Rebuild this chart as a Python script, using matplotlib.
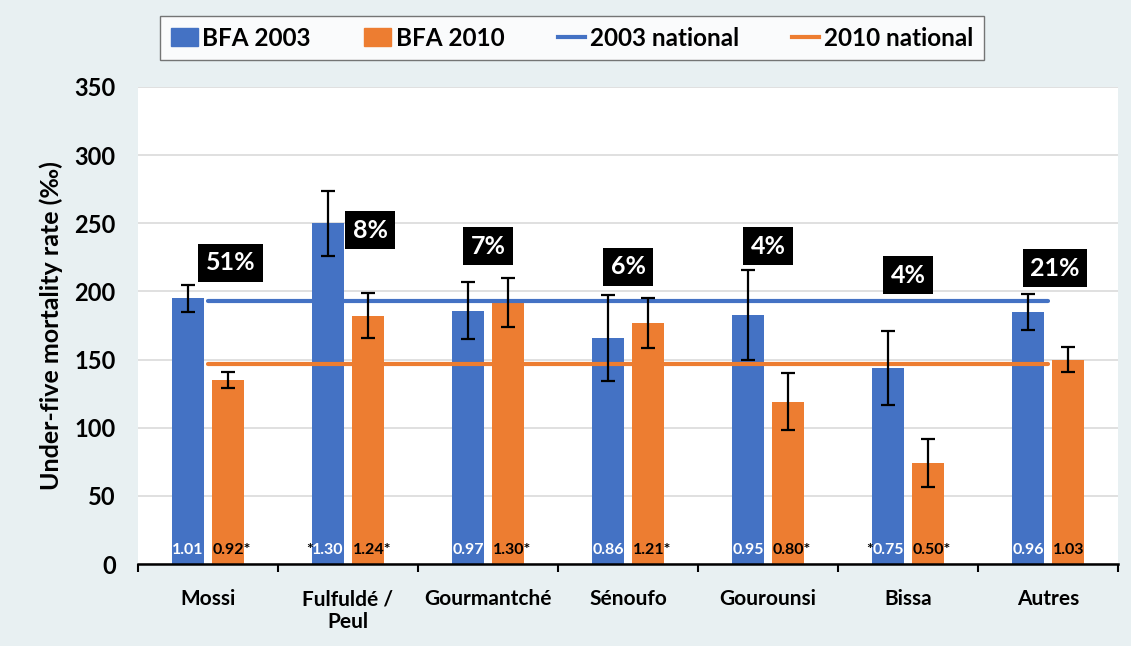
import matplotlib
matplotlib.use("Agg")
import matplotlib.pyplot as plt
import numpy as np
from matplotlib.patches import Patch
from matplotlib.lines import Line2D

plt.rcParams['font.family'] = ['Lato', 'DejaVu Sans']

categories = ["Mossi", "Fulfuldé /\nPeul", "Gourmantché", "Sénoufo", "Gourounsi", "Bissa", "Autres"]
bfa2003 = [195, 250, 186, 166, 183, 144, 185]
err2003 = [10, 24, 21, 31.5, 33, 27, 13]
bfa2010 = [135, 182, 192, 177, 119, 74, 150]
err2010 = [6, 16.5, 18, 18.5, 21, 17.5, 9]
national2003 = 193
national2010 = 147
shares = ["51%", "8%", "7%", "6%", "4%", "4%", "21%"]
share_y = [221, 245, 233, 218, 233, 212, 217]
share_x = [0.16, 1.16, 2.0, 3.0, 4.0, 5.0, 6.05]
ratio2003 = ["1.01", "1.30", "0.97", "0.86", "0.95", "0.75", "0.96"]
star2003 = [False, True, False, False, False, True, False]
ratio2010 = ["0.92*", "1.24*", "1.30*", "1.21*", "0.80*", "0.50*", "1.03"]

blue = "#4472C4"
orange = "#ED7D31"
bg = "#E8F0F2"

fig = plt.figure(figsize=(11.31, 6.46), dpi=100)
fig.patch.set_facecolor(bg)
ax = fig.add_axes([138/1131, (646-564)/646, 980/1131, (564-87)/646])
ax.set_facecolor("white")

x = np.arange(len(categories))
w = 0.229
off = 0.143
ax.bar(x - off, bfa2003, w, color=blue, zorder=2)
ax.bar(x + off, bfa2010, w, color=orange, zorder=2)
ax.errorbar(x - off, bfa2003, yerr=err2003, fmt='none', ecolor='black', elinewidth=1.6, capsize=5, capthick=1.6, zorder=4)
ax.errorbar(x + off, bfa2010, yerr=err2010, fmt='none', ecolor='black', elinewidth=1.6, capsize=5, capthick=1.6, zorder=4)

ax.plot([x[0], x[-1]], [national2003, national2003], color=blue, lw=3, zorder=3, solid_capstyle='round')
ax.plot([x[0], x[-1]], [national2010, national2010], color=orange, lw=3, zorder=3, solid_capstyle='round')

for xi, s, yv in zip(share_x, shares, share_y):
    ax.text(xi, yv, s, ha='center', va='center', color='white', fontsize=18, fontweight='bold',
            bbox=dict(boxstyle='square,pad=0.3', fc='black', ec='none'), zorder=5)

fs_r = 11.5
for i in range(len(categories)):
    ax.text(x[i] - off, 10, ratio2003[i], ha='center', va='center', color='white', fontsize=fs_r, fontweight='bold', zorder=5)
    if star2003[i]:
        ax.text(x[i] - off - 0.11, 10, "*", ha='right', va='center', color='black', fontsize=fs_r, fontweight='bold', zorder=5)
    ax.text(x[i] + off - 0.11, 10, ratio2010[i], ha='left', va='center', color='black', fontsize=fs_r, fontweight='bold', zorder=5)

ax.set_xlim(-0.5, 6.5)
ax.set_ylim(0, 350)
ax.set_yticks(np.arange(0, 351, 50))
ax.yaxis.grid(True, color='#DDDDDD', lw=1.3, zorder=0)
ax.set_axisbelow(True)
ax.set_xticks(x)
ax.set_xticklabels(categories, fontsize=15, fontweight='bold')
ax.tick_params(axis='x', length=0, pad=18)
ax.set_xticks(np.arange(-0.5, 6.6, 1), minor=True)
ax.tick_params(axis='x', which='minor', length=6, width=1.5, color='black')
ax.tick_params(axis='y', length=0, labelsize=17, pad=16)
for lab in ax.get_yticklabels():
    lab.set_fontweight('bold')
for s in ['left', 'right', 'top']:
    ax.spines[s].set_visible(False)
ax.spines['bottom'].set_linewidth(1.8)
ax.set_ylabel("Under-five mortality rate (‰)", fontsize=18, fontweight='bold', labelpad=8)

handles = [Patch(color=blue), Patch(color=orange),
           Line2D([0], [0], color=blue, lw=3), Line2D([0], [0], color=orange, lw=3)]
labels = ["BFA 2003", "BFA 2010", "2003 national", "2010 national"]
leg = fig.legend(handles, labels, loc='center', bbox_to_anchor=(572/1131, 1 - 38/646), ncol=4,
                 fontsize=17.5, frameon=True, fancybox=False, edgecolor='#555555',
                 handlelength=1.1, handletextpad=0.2, columnspacing=2.2, borderpad=0.45,
                 borderaxespad=0)
for t in leg.get_texts():
    t.set_fontweight('bold')
leg.get_frame().set_linewidth(1.0)

fig.savefig("out.png", dpi=100, facecolor=bg)
